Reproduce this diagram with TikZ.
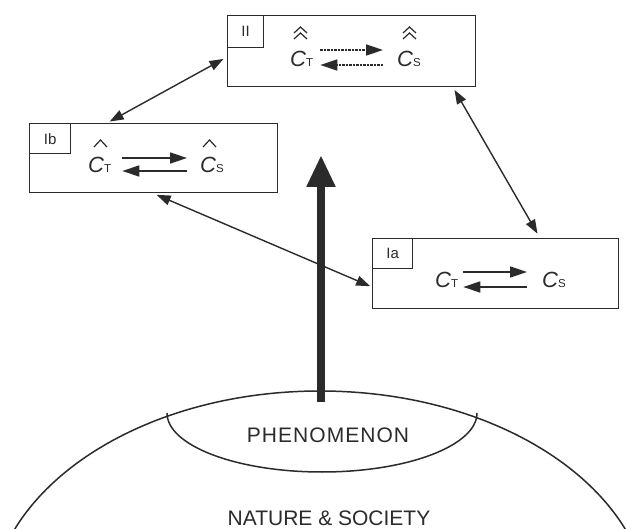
\documentclass[tikz,border=0pt]{standalone}
\usepackage{fontspec}
\setmainfont{Liberation Sans}
\usetikzlibrary{arrows.meta}
\definecolor{ink}{HTML}{2B2B2B}
\newcommand\cvar[1]{{\fontsize{22}{22}\selectfont\itshape C}{\fontsize{11.5}{11.5}\selectfont #1}}
\begin{document}
\begin{tikzpicture}[x=1pt,y=-1pt,
  box/.style={draw=ink,line width=1.3pt,minimum width=248pt,minimum height=71pt,inner sep=0pt,anchor=north west},
  lbl/.style={draw=ink,line width=1.3pt,minimum width=38pt,minimum height=31pt,inner sep=0pt,anchor=north west,font=\fontsize{15}{15}\selectfont,text=ink},
  var/.style={inner sep=0pt,anchor=base west,text=ink},
  conn/.style={draw=ink,line width=1.4pt,{Triangle[length=14pt,width=10pt]}-{Triangle[length=14pt,width=10pt]}},
  fwd/.style={draw=ink,line width=1.7pt,-{Triangle[length=17pt,width=11pt]}},
  dfwd/.style={fwd,dash pattern=on 2.5pt off 1pt},
  hatline/.style={draw=ink,line width=1.2pt},
  bigarrow/.style={draw=ink,line width=8pt,-{Triangle[length=32pt,width=27pt]}},
  curve/.style={draw=ink,line width=1.5pt},
  caption/.style={inner sep=0pt,text=ink}
]
\useasboundingbox (0,0) rectangle (627,529);
\fill[white] (0,0) rectangle (627,529);

% outer world
\begin{scope}
\clip (0,0) rectangle (627,529);
\draw[curve] (320,614) ellipse [x radius=330, y radius=223];
\end{scope}
\draw[curve] (477,413) arc [start angle=0, end angle=180, x radius=155, y radius=59];
\node[caption,font=\fontsize{21}{21}\selectfont\addfontfeature{LetterSpace=5}] (phen) at (328,435) {PHENOMENON};
\node[caption,font=\fontsize{21}{21}\selectfont] (nat) at (329,518) {NATURE \& SOCIETY};

% big arrow
\coordinate (atail) at (321,402);
\coordinate (atip) at (321,155);
\draw[bigarrow] (atail) -- (atip);

% boxes
\node[box] (II) at (227,15) {};
\node[box,minimum height=69pt] (Ib) at (29,123) {};
\node[box,minimum width=246pt,minimum height=70pt] (Ia) at (372,238) {};
\node[lbl,minimum width=36pt,minimum height=32pt] (IIl) at (II.north west) {II};
\node[lbl,minimum width=41pt,minimum height=30pt] (Ibl) at (Ib.north west) {Ib};
\node[lbl,minimum width=40pt,minimum height=30pt] (Ial) at (Ia.north west) {Ia};

% box II contents
\node[var] (ctII) at (290,67) {\cvar{T}};
\node[var] (csII) at (397,67) {\cvar{S}};
\draw[dfwd] ([xshift=7pt,yshift=17pt]ctII.base east) -- ([xshift=-14pt,yshift=17pt]csII.base west);
\draw[dfwd] ([xshift=-14pt,yshift=2pt]csII.base west) -- ([xshift=7pt,yshift=2pt]ctII.base east);
\draw[hatline] ([xshift=4pt,yshift=34pt]ctII.base west) -- ++(6.5,-6) -- ++(6.5,6);
\draw[hatline] ([xshift=4pt,yshift=28pt]ctII.base west) -- ++(6.5,-6) -- ++(6.5,6);
\draw[hatline] ([xshift=6pt,yshift=34pt]csII.base west) -- ++(6.5,-6) -- ++(6.5,6);
\draw[hatline] ([xshift=6pt,yshift=28pt]csII.base west) -- ++(6.5,-6) -- ++(6.5,6);

% box Ib contents
\node[var] (ctIb) at (88,173) {\cvar{T}};
\node[var] (csIb) at (200,173) {\cvar{S}};
\draw[fwd] ([xshift=11pt,yshift=15pt]ctIb.base east) -- ([xshift=-13pt,yshift=15pt]csIb.base west);
\draw[fwd] ([xshift=-13pt,yshift=2pt]csIb.base west) -- ([xshift=11pt,yshift=2pt]ctIb.base east);
\draw[hatline] ([xshift=6pt,yshift=26pt]ctIb.base west) -- ++(6.5,-7) -- ++(6.5,7);
\draw[hatline] ([xshift=3pt,yshift=26pt]csIb.base west) -- ++(6.5,-7) -- ++(6.5,7);

% box Ia contents
\node[var] (ctIa) at (435,288) {\cvar{T}};
\node[var] (csIa) at (542,288) {\cvar{S}};
\draw[fwd] ([xshift=5pt,yshift=16pt]ctIa.base east) -- ([xshift=-15pt,yshift=16pt]csIa.base west);
\draw[fwd] ([xshift=-15pt,yshift=1pt]csIa.base west) -- ([xshift=5pt,yshift=1pt]ctIa.base east);

% connectors between levels
\draw[conn,shorten <=3pt,shorten >=4pt] ([xshift=78pt]Ib.north west) -- ([yshift=-42pt]II.north west);
\draw[conn,shorten <=3pt,shorten >=5pt] ([xshift=226pt]II.south west) -- ([xshift=168pt]Ia.north west);
\draw[conn,shorten <=4pt,shorten >=2pt] ([xshift=124pt]Ib.south west) -- ([yshift=-49pt]Ia.north west);
\end{tikzpicture}
\end{document}
